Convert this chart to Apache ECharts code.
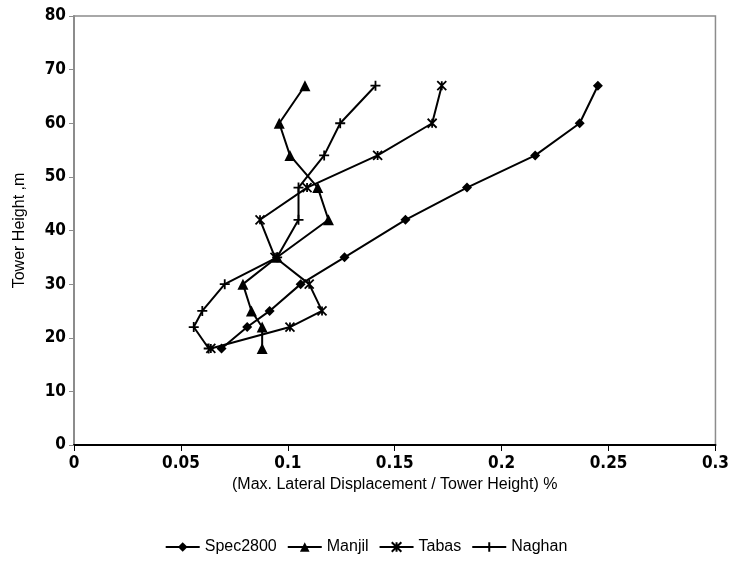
<!DOCTYPE html>
<html><head><meta charset="utf-8">
<script src="https://cdn.jsdelivr.net/npm/echarts@6/dist/echarts.min.js"></script>
<style>html,body{margin:0;padding:0;background:#fff}#c{width:732px;height:574px}</style>
</head><body><div id="c"></div>
<script>
const heights = [18, 22, 25, 30, 35, 42, 48, 54, 60, 67];
const spec2800 = [0.069, 0.081, 0.0915, 0.106, 0.1265, 0.155, 0.1838, 0.2157, 0.2365, 0.245];
const manjil   = [0.088, 0.088, 0.083, 0.079, 0.095, 0.119, 0.114, 0.101, 0.096, 0.108];
const tabas    = [0.064, 0.101, 0.116, 0.110, 0.094, 0.087, 0.109, 0.142, 0.1675, 0.172];
const naghan   = [0.063, 0.056, 0.060, 0.0705, 0.095, 0.105, 0.105, 0.117, 0.1245, 0.141];
const seriesNames = ['Spec2800', 'Manjil', 'Tabas', 'Naghan'];
const xTicks = [0, 0.05, 0.1, 0.15, 0.2, 0.25, 0.3];

const FONT = '"Liberation Sans", Arial, sans-serif';
const TICKFONT = '"DejaVu Sans Condensed", "Liberation Sans Narrow", "Liberation Sans", Arial, sans-serif';
const symX = 'path://M0,0L10,10M10,0L0,10M5,0L5,10';
const symPlus = 'path://M5,0L5,10M0,5L10,5';
const pairs = v => v.map((x, i) => [x, heights[i]]);
const mk = (name, data, symbol, size) => ({
  name, type: 'line', data: pairs(data), symbol, symbolSize: size,
  lineStyle: { color: '#000', width: 2 },
  itemStyle: { color: '#000', borderColor: '#000', borderWidth: (symbol.indexOf('path') === 0 ? 1.8 : 0) },
  emphasis: { disabled: true }, animation: false
});
const chart = echarts.init(document.getElementById('c'));
chart.setOption({
  animation: false,
  grid: { left: 74, right: 16, top: 16, bottom: 129, show: true, borderColor: '#8c8c8c', borderWidth: 1.5 },
  xAxis: {
    type: 'value', min: 0, max: 0.3, interval: 0.05,
    name: '(Max. Lateral Displacement / Tower Height) %', nameLocation: 'middle', nameGap: 32,
    nameTextStyle: { fontFamily: FONT, fontSize: 16, color: '#000' },
    axisLine: { show: true, lineStyle: { color: '#000', width: 2 } },
    axisTick: { show: true, length: 6, lineStyle: { color: '#000', width: 1 } },
    axisLabel: { fontFamily: TICKFONT, fontWeight: 'bold', fontSize: 17, color: '#000', margin: 10,
      formatter: v => { const s = xTicks.find(t => Math.abs(t - v) < 1e-9); return String(s !== undefined ? s : v); } },
    splitLine: { show: false }
  },
  yAxis: {
    type: 'value', min: 0, max: 80, interval: 10,
    name: 'Tower Height ,m', nameLocation: 'middle', nameGap: 46, nameRotate: 90,
    nameTextStyle: { fontFamily: FONT, fontSize: 16, color: '#000' },
    axisLine: { show: true, lineStyle: { color: '#8c8c8c', width: 2 } },
    axisTick: { show: true, length: 5, lineStyle: { color: '#8c8c8c', width: 1 } },
    axisLabel: { fontFamily: TICKFONT, fontWeight: 'bold', fontSize: 17, color: '#000', margin: 8 },
    splitLine: { show: false }
  },
  legend: {
    bottom: 14, left: 'center', itemWidth: 34, itemHeight: 12, itemGap: 10,
    textStyle: { fontFamily: FONT, fontSize: 16, color: '#000' },
    data: seriesNames
  },
  series: [
    mk(seriesNames[0], spec2800, 'diamond', 10),
    mk(seriesNames[1], manjil, 'triangle', 11),
    mk(seriesNames[2], tabas, symX, 9),
    mk(seriesNames[3], naghan, symPlus, 10)
  ]
});
</script></body></html>
